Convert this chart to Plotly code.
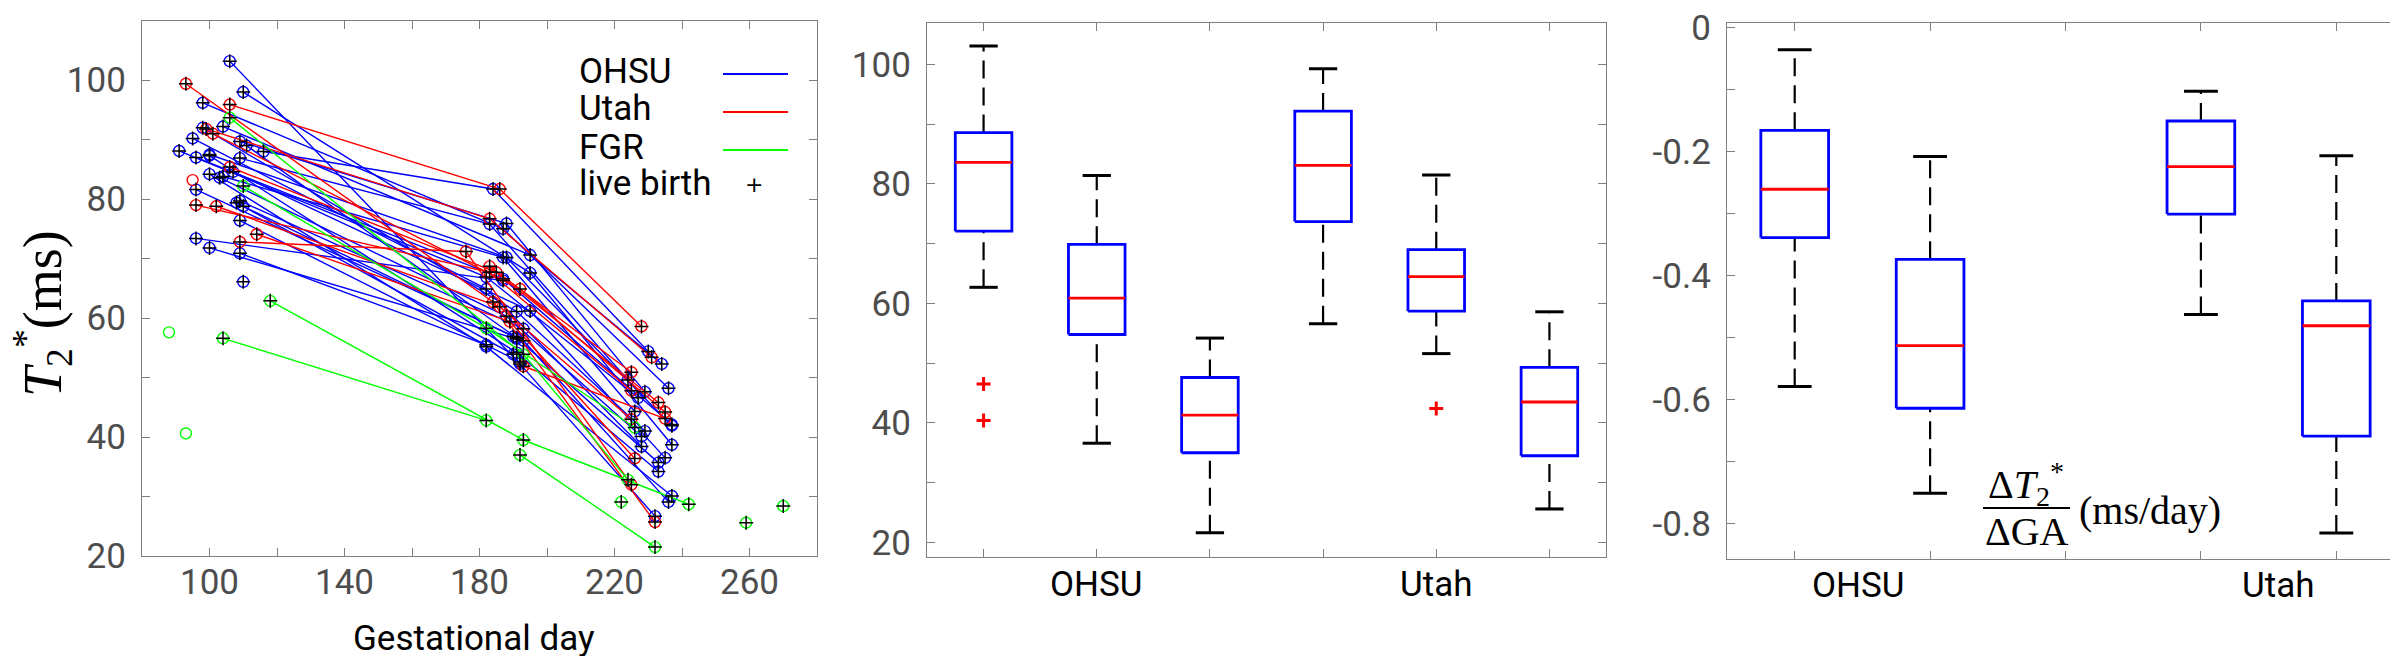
import plotly.graph_objects as go

W, H = 2398, 656

# ---------------- panel 1: T2* against gestational day, one list per subject ----------------
ohsu_days = [
    [106, 192, 232], [110, 195, 237], [98, 187, 236], [104, 195, 234], [98, 191, 229],
    [95, 182, 228], [109, 188, 229], [111, 191, 233], [91, 182, 227], [116, 184, 230],
    [100, 188, 237], [100, 191, 233], [96, 187, 237], [109, 183, 224], [107, 195, 235],
    [100, 182, 237], [104, 187, 226], [103, 188, 228], [96, 193, 236], [109, 193],
    [108, 190], [110, 190], [109, 192], [96, 187], [100, 191], [109, 182], [110],
]
ohsu_t2 = [
    [103.2, 52.3, 26.7], [98.0, 67.6, 38.7], [96.2, 75.0, 48.2], [92.2, 70.6, 52.3], [92.0, 61.1, 41.0],
    [90.2, 64.9, 38.4], [89.7, 75.9, 47.6], [89.0, 56.7, 35.7], [88.1, 66.9, 46.6], [88.0, 81.7, 54.4],
    [87.5, 70.2, 41.9], [87.3, 54.2, 34.2], [87.0, 66.6, 42.1], [86.9, 75.8, 49.6], [84.6, 61.2, 36.5],
    [84.2, 55.2, 30.1], [83.8, 70.2, 44.3], [83.6, 60.3, 40.1], [81.6, 56.2, 29.1], [79.7, 58.2],
    [79.4, 53.9], [78.8, 56.9], [76.4, 52.6], [73.4, 66.3], [71.8, 56.5], [70.9, 55.5], [66.1],
]
ohsu_live = [True] * len(ohsu_days)

utah_days = [
    [93, 184, 232], [106, 186, 228], [99, 183, 231], [101, 192, 235], [106, 185, 233],
    [96, 183, 225], [102, 186, 225], [114, 189, 226], [109, 176, 225], [183, 225], [193, 235], [95],
]
utah_t2 = [
    [99.4, 62.7, 25.7], [95.9, 81.7, 58.6], [91.8, 76.7, 53.4], [91.0, 64.9, 44.2], [85.4, 67.7, 45.8],
    [79.0, 67.7, 47.8], [78.8, 61.9, 43.0], [74.1, 59.4, 36.4], [72.8, 71.2, 32.0], [68.7, 50.9], [51.9, 43.1], [83.2],
]
utah_live = [True] * 11 + [False]

fgr_days = [[106, 193, 224], [110, 182, 226], [118, 193, 242], [104, 182], [192, 232],
            [88], [93], [222], [259], [270]]
fgr_t2 = [[93.7, 53.9, 32.8], [82.2, 58.3, 41.6], [62.9, 39.5, 28.7], [56.6, 42.8], [37.0, 21.5],
          [57.6], [40.6], [29.1], [25.6], [28.4]]
fgr_live = [True, True, True, True, True, False, False, True, True, True]

legend_labels = ["OHSU", "Utah", "FGR", "live birth"]
day_ticks = list(range(80, 281, 20))
day_labels = [100, 140, 180, 220, 260]

# ---------------- panel 2: T2* box plots (three scans per site) ----------------
t2_pos = [1, 2, 3, 4, 5, 6]
t2_low = [62.7, 36.6, 21.6, 56.6, 51.6, 25.6]
t2_q1 = [72.1, 54.8, 35.0, 73.7, 58.7, 34.5]
t2_med = [83.6, 60.9, 41.3, 83.1, 64.5, 43.5]
t2_q3 = [88.6, 69.9, 47.6, 92.2, 69.0, 49.3]
t2_high = [103.1, 81.4, 54.2, 99.3, 81.5, 58.6]
t2_out_pos = [1, 1, 5]
t2_out_val = [46.5, 40.4, 42.4]
t2_label_pos = [2, 5]
site_labels = ["OHSU", "Utah"]

# ---------------- panel 3: slope box plots ----------------
slope_pos = [1, 2, 4, 5]
slope_low = [-0.579, -0.751, -0.463, -0.815]
slope_q1 = [-0.339, -0.614, -0.301, -0.659]
slope_med = [-0.261, -0.513, -0.2245, -0.481]
slope_q3 = [-0.166, -0.374, -0.151, -0.441]
slope_high = [-0.036, -0.208, -0.103, -0.207]
slope_label_pos = [1.47, 4.57]

BLUE, RED, GREEN = "#0000ff", "#ff0000", "#00ff00"
AXIS_GRAY = "#808080"
NUM_GRAY = "#4d4d4d"

fig = go.Figure()


def paths(days, vals):
    xs, ys = [], []
    for d, v in zip(days, vals):
        xs += d + [None]
        ys += v + [None]
    return xs, ys


plus_x, plus_y = [], []
for days, vals, live, col in [(ohsu_days, ohsu_t2, ohsu_live, BLUE),
                              (utah_days, utah_t2, utah_live, RED),
                              (fgr_days, fgr_t2, fgr_live, GREEN)]:
    xs, ys = paths(days, vals)
    fig.add_trace(go.Scatter(x=xs, y=ys, mode="lines+markers", xaxis="x", yaxis="y",
                             line=dict(color=col, width=1.4),
                             marker=dict(symbol="circle-open", size=11, color=col,
                                         line=dict(width=1.4, color=col)),
                             showlegend=False, hoverinfo="skip"))
    for d, v, lb in zip(days, vals, live):
        if lb:
            plus_x += d
            plus_y += v

fig.add_trace(go.Scatter(x=plus_x, y=plus_y, mode="markers", xaxis="x", yaxis="y",
                         marker=dict(symbol="cross-thin-open", size=10, color="black",
                                     line=dict(width=1.5, color="black")),
                         showlegend=False, hoverinfo="skip"))


def add_boxes(pos, low, q1, med, q3, high, xa, ya, half=0.25, cap=0.125):
    bx, by, mx, my, wx, wy, cx, cy = [], [], [], [], [], [], [], []
    for p, lo, a, m, b, hi in zip(pos, low, q1, med, q3, high):
        bx += [p - half, p + half, p + half, p - half, p - half, None]
        by += [a, a, b, b, a, None]
        mx += [p - half, p + half, None]
        my += [m, m, None]
        wx += [p, p, None, p, p, None]
        wy += [b, hi, None, lo, a, None]
        cx += [p - cap, p + cap, None, p - cap, p + cap, None]
        cy += [hi, hi, None, lo, lo, None]
    common = dict(mode="lines", xaxis=xa, yaxis=ya, showlegend=False, hoverinfo="skip")
    fig.add_trace(go.Scatter(x=wx, y=wy, line=dict(color="black", width=2.2, dash="18px,9px"), **common))
    fig.add_trace(go.Scatter(x=cx, y=cy, line=dict(color="black", width=3), **common))
    fig.add_trace(go.Scatter(x=bx, y=by, line=dict(color=BLUE, width=2.8), **common))
    fig.add_trace(go.Scatter(x=mx, y=my, line=dict(color=RED, width=2.8), **common))


add_boxes(t2_pos, t2_low, t2_q1, t2_med, t2_q3, t2_high, "x2", "y2")
fig.add_trace(go.Scatter(x=t2_out_pos, y=t2_out_val, mode="markers", xaxis="x2", yaxis="y2",
                         marker=dict(symbol="cross-thin-open", size=10, color=RED,
                                     line=dict(width=3, color=RED)),
                         showlegend=False, hoverinfo="skip"))
add_boxes(slope_pos, slope_low, slope_q1, slope_med, slope_q3, slope_high, "x3", "y3")


def px(v):
    return v / W


def py(v):
    return 1 - v / H


axis_common = dict(showline=True, linecolor=AXIS_GRAY, linewidth=1.3, mirror="ticks",
                   ticks="inside", ticklen=8, tickwidth=1.2, tickcolor=AXIS_GRAY,
                   showgrid=False, zeroline=False, automargin=False, ticklabeloverflow="allow",
                   tickfont=dict(family="Roboto", size=35, color=NUM_GRAY))

y1_ticks = list(range(20, 111, 10))
y2_ticks = list(range(20, 101, 10))
y3_ticks = [-0.8, -0.7, -0.6, -0.5, -0.4, -0.3, -0.2, -0.1, 0.0]

fig.update_layout(
    width=W, height=H, template="none",
    margin=dict(l=0, r=0, t=0, b=0),
    paper_bgcolor="white", plot_bgcolor="white",
    font=dict(family="Roboto", size=35, color=NUM_GRAY),
    xaxis=dict(domain=[px(134), px(809)], range=[80, 280], tickvals=day_ticks,
               ticktext=[""] * len(day_ticks), anchor="y", **axis_common),
    yaxis=dict(domain=[py(548), py(12.7)], range=[20, 110], tickvals=y1_ticks,
               ticktext=[str(t) if t % 20 == 0 and t <= 100 else "" for t in y1_ticks],
               ticklabelstandoff=8, anchor="x", **axis_common),
    xaxis2=dict(domain=[px(919), px(1598)], range=[0.5, 6.5], tickvals=t2_pos,
                ticktext=[""] * len(t2_pos), anchor="y2", **axis_common),
    yaxis2=dict(domain=[py(549.3), py(14.7)], range=[17.5, 107], tickvals=y2_ticks,
                ticktext=[str(t) if t % 20 == 0 else "" for t in y2_ticks],
                ticklabelstandoff=8, anchor="x2", **axis_common),
    xaxis3=dict(domain=[px(1719), px(2396)], range=[0.5, 5.5], tickvals=[1, 2, 3, 4, 5],
                ticktext=[""] * 5, anchor="y3", **axis_common),
    yaxis3=dict(domain=[py(551), py(15)], range=[-0.857, 0.007], tickvals=y3_ticks,
                ticktext=["-0.8", "", "-0.6", "", "-0.4", "", "-0.2", "", "0"],
                ticklabelstandoff=8, anchor="x3", **axis_common),
)

mid = dict(xanchor="center", yanchor="middle", showarrow=False)
black = dict(family="Roboto", size=35, color="black")
ann = []
# x tick labels, placed on each axis' own scale
for d in day_labels:
    ann.append(dict(text=str(d), x=d, xref="x", y=py(574), yref="paper",
                    font=dict(family="Roboto", size=35, color=NUM_GRAY), **mid))
for pos, lab in zip(t2_label_pos, site_labels):
    ann.append(dict(text=lab, x=pos, xref="x2", y=py(576), yref="paper", font=black, **mid))
for pos, lab in zip(slope_label_pos, site_labels):
    ann.append(dict(text=lab, x=pos, xref="x3", y=py(577), yref="paper", font=black, **mid))

# axis titles
ann.append(dict(text="<i>T</i><sub>2</sub><sup>*</sup>(ms)", x=px(34), y=py(306), xref="paper", yref="paper",
                textangle=-90, font=dict(family="Liberation Serif", size=54, color="black"), **mid))
ann.append(dict(text="Gestational day", x=px(466), y=py(630), xref="paper", yref="paper",
                font=black, **mid))

# fraction label in panel 3
serif = dict(family="Liberation Serif", size=40, color="black")
ann.append(dict(text="Δ<i>T</i><sub>2</sub><sup>*</sup>", x=px(2018), y=py(476), xref="paper", yref="paper",
                font=serif, **mid))
ann.append(dict(text="ΔGA", x=px(2019), y=py(523), xref="paper", yref="paper", font=serif, **mid))
ann.append(dict(text="(ms/day)", x=px(2142), y=py(502), xref="paper", yref="paper", font=serif, **mid))

shapes = [dict(type="line", xref="paper", yref="paper", x0=px(1975), x1=px(2062), y0=py(500), y1=py(500),
               line=dict(color="black", width=2))]

# manual legend: text on the left, sample on the right
legend_rows = [63, 101, 139, 175]
for lab, row, col in zip(legend_labels, legend_rows, [BLUE, RED, GREEN, None]):
    ann.append(dict(text=lab, x=px(569), y=py(row), xref="paper", yref="paper", xanchor="left",
                    yanchor="middle", showarrow=False, font=black))
    if col:
        shapes.append(dict(type="line", xref="paper", yref="paper", x0=px(715), x1=px(780),
                           y0=py(row + 3), y1=py(row + 3), line=dict(color=col, width=2)))
    else:
        ann.append(dict(text="+", x=px(746), y=py(row + 1), xref="paper", yref="paper",
                        font=dict(family="DejaVu Sans", size=22, color="black"), **mid))

fig.update_layout(annotations=ann, shapes=shapes)
fig.write_html("out.html")
